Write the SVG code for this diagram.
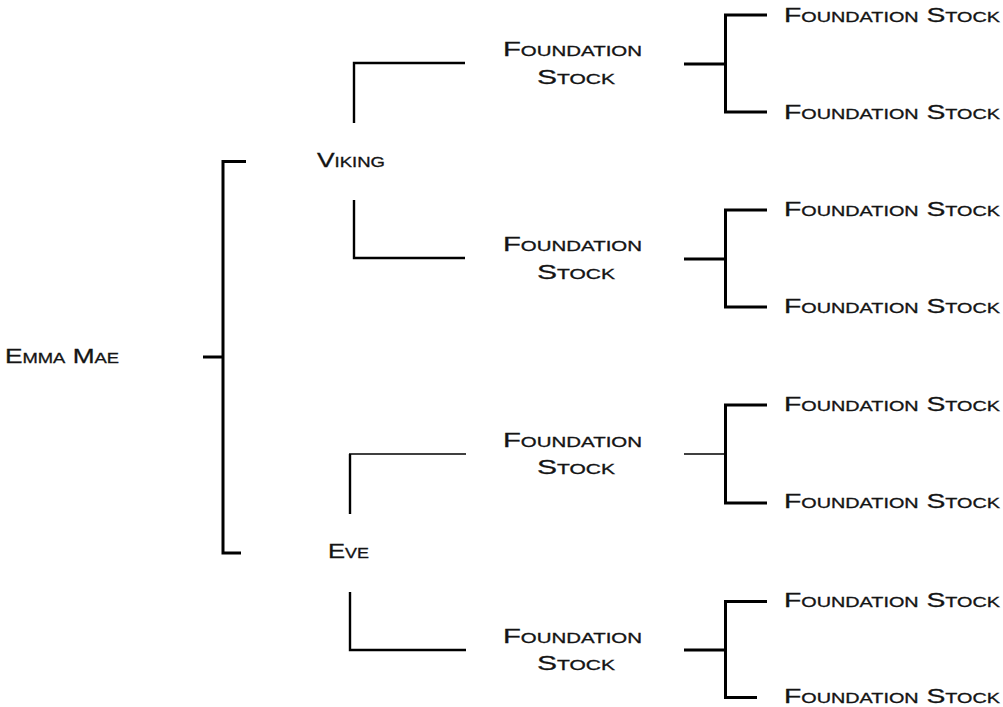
<svg xmlns="http://www.w3.org/2000/svg" width="1003" height="707" viewBox="0 0 1003 707">
<style>
  .t { font-family: "Liberation Sans", Arial, sans-serif; font-variant: small-caps; font-size: 20px; fill: #141414; stroke: #141414; stroke-width: 0.3; }
  .c { fill: none; stroke: #000; stroke-width: 3; stroke-linecap: butt; stroke-linejoin: miter; }
  .m { stroke-width: 2.4; }
  .thin { stroke-width: 1.4; }
</style>
<rect width="1003" height="707" fill="#fff"/>
<g id="connectors">
  <path class="c" d="M203,357 H223"/>
  <path class="c" d="M246,161.5 H223 V553 H241"/>
  <path class="c m" d="M354,123 V63 H465"/>
  <path class="c m" d="M354,200 V258 H465"/>
  <path class="c m" d="M350,514 V454"/>
  <path class="c thin" d="M349,454 H466"/>
  <path class="c m" d="M350,592 V650 H466"/>
  <path class="c" d="M684,64 H725.5"/>
  <path class="c" d="M767,15 H725.5 V112 H767"/>
  <path class="c" d="M684,259 H725.5"/>
  <path class="c" d="M767,210 H725.5 V307 H767"/>
  <path class="c thin" d="M684,454 H725.5"/>
  <path class="c" d="M767,405 H725.5 V503 H767"/>
  <path class="c" d="M684,650 H725.5"/>
  <path class="c" d="M767,601.5 H725.5 V697.5 H757"/>
</g>
<g id="emma"><text class="t" x="5" y="363" textLength="114" lengthAdjust="spacingAndGlyphs">Emma Mae</text></g>
<g id="viking"><text class="t" x="317" y="167" textLength="68" lengthAdjust="spacingAndGlyphs">Viking</text></g>
<g id="eve"><text class="t" x="328" y="558" textLength="41" lengthAdjust="spacingAndGlyphs">Eve</text></g>
<g id="fs1">
  <text class="t" x="503" y="56" textLength="139" lengthAdjust="spacingAndGlyphs">Foundation</text>
  <text class="t" x="537" y="84" textLength="78" lengthAdjust="spacingAndGlyphs">Stock</text>
</g>
<g id="fs2">
  <text class="t" x="503" y="251" textLength="139" lengthAdjust="spacingAndGlyphs">Foundation</text>
  <text class="t" x="537" y="279" textLength="78" lengthAdjust="spacingAndGlyphs">Stock</text>
</g>
<g id="fs3">
  <text class="t" x="503" y="447" textLength="139" lengthAdjust="spacingAndGlyphs">Foundation</text>
  <text class="t" x="537" y="474" textLength="78" lengthAdjust="spacingAndGlyphs">Stock</text>
</g>
<g id="fs4">
  <text class="t" x="503" y="643" textLength="139" lengthAdjust="spacingAndGlyphs">Foundation</text>
  <text class="t" x="537" y="670" textLength="78" lengthAdjust="spacingAndGlyphs">Stock</text>
</g>
<g id="leaf1"><text class="t" x="784" y="22" textLength="216" lengthAdjust="spacingAndGlyphs">Foundation Stock</text></g>
<g id="leaf2"><text class="t" x="784" y="119" textLength="216" lengthAdjust="spacingAndGlyphs">Foundation Stock</text></g>
<g id="leaf3"><text class="t" x="784" y="216" textLength="216" lengthAdjust="spacingAndGlyphs">Foundation Stock</text></g>
<g id="leaf4"><text class="t" x="784" y="313" textLength="216" lengthAdjust="spacingAndGlyphs">Foundation Stock</text></g>
<g id="leaf5"><text class="t" x="784" y="411" textLength="216" lengthAdjust="spacingAndGlyphs">Foundation Stock</text></g>
<g id="leaf6"><text class="t" x="784" y="508" textLength="216" lengthAdjust="spacingAndGlyphs">Foundation Stock</text></g>
<g id="leaf7"><text class="t" x="784" y="607" textLength="216" lengthAdjust="spacingAndGlyphs">Foundation Stock</text></g>
<g id="leaf8"><text class="t" x="784" y="703" textLength="216" lengthAdjust="spacingAndGlyphs">Foundation Stock</text></g>
</svg>
